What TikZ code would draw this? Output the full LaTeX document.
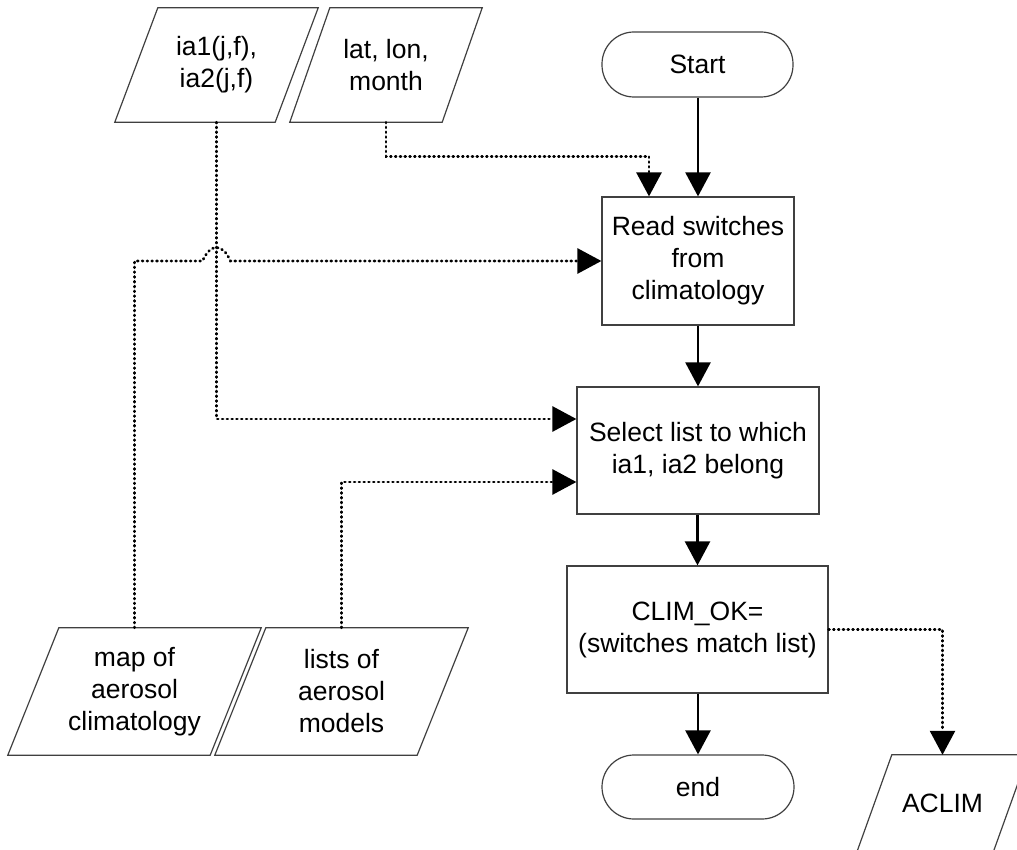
\documentclass[tikz,border=0pt]{standalone}
\usepackage{fontspec}
\setmainfont{Liberation Sans}
\usetikzlibrary{arrows.meta,calc}
\tikzset{
  every node/.style={font=\fontsize{26.5}{32}\selectfont, align=center, inner sep=0pt},
  boxline/.style={draw=black!75, line width=1.2pt},
  procbox/.style={boxline, rectangle},
  termbox/.style={boxline, rectangle, rounded corners=32pt},
  iobox/.style={rectangle},
  flow/.style={line width=2.4pt, -{Triangle[length=24pt,width=25pt]}},
  dataflow/.style={line width=2.7pt, line cap=round, dash pattern=on 0.9pt off 3.9pt, -{Triangle[length=24pt,width=25pt]}},
}
\newcommand\drawpara[2]{\draw[boxline] ($(#1.north west)+(#2,0)$) -- (#1.north east) -- ($(#1.south east)+(-#2,0)$) -- (#1.south west) -- cycle;}
\begin{document}
\begin{tikzpicture}[x=1pt,y=-1pt]
\useasboundingbox (0,0) rectangle (1017,850);
% input/output parallelograms
\node[iobox, minimum width=203pt, minimum height=114pt] (ia) at (216.5,65) {ia1(j,f),\\ia2(j,f)};
\drawpara{ia}{43}
\node[iobox, minimum width=192pt, minimum height=114pt] (lat) at (386,65) {lat, lon,\\month};
\drawpara{lat}{40}
\node[iobox, minimum width=253pt, minimum height=127pt] (map) at (134.5,691.5) {map of\\aerosol\\climatology};
\drawpara{map}{51}
\node[iobox, minimum width=253pt, minimum height=127pt] (lists) at (341.5,691.5) {lists of\\aerosol\\models};
\drawpara{lists}{51}
\node[iobox, minimum width=171pt, minimum height=97pt] (aclim) at (942.5,803.5) {ACLIM};
\begin{scope}
\clip (0,0) rectangle (1017,850);
\drawpara{aclim}{35}
\end{scope}
% process boxes and terminals
\node[termbox, minimum width=191pt, minimum height=65pt] (Start) at (697.5,64.5) {Start};
\node[procbox, minimum width=192pt, minimum height=128pt] (Read) at (698,261) {Read switches\\from\\climatology};
\node[procbox, minimum width=242pt, minimum height=127pt] (Select) at (698,450.5) {Select list to which\\ia1, ia2 belong};
\node[procbox, minimum width=261pt, minimum height=127pt] (CLIM) at (697.5,629.5) {CLIM\_OK=\\(switches match list)};
\node[termbox, minimum width=192pt, minimum height=64pt] (End) at (698,787) {end};
% solid flow
\draw[flow] (Start.south -| Read.north) -- (Read.north);
\draw[flow] (Read.south) -- (Select.north);
\draw[flow] (Select.south -| CLIM.north) -- (CLIM.north);
\draw[flow] (CLIM.south -| End.north) -- (End.north);
% data flow
\draw[dataflow] (lat.south) -- ++(0,34) -| ([xshift=-49pt]Read.north);
\draw[dataflow] (ia.south) |- ([yshift=31.5pt]Select.west);
\draw[dataflow] (map.north) -- (map.north |- Read.west) -- ($(ia.south |- Read.west)+(-14,0)$) .. controls +(8,-18) and +(-8,-18) .. ($(ia.south |- Read.west)+(14,0)$) -- (Read.west);
\draw[dataflow] (lists.north) |- ([yshift=-31.5pt]Select.west);
\draw[dataflow] (CLIM.east) -| (aclim.north);
\end{tikzpicture}
\end{document}
